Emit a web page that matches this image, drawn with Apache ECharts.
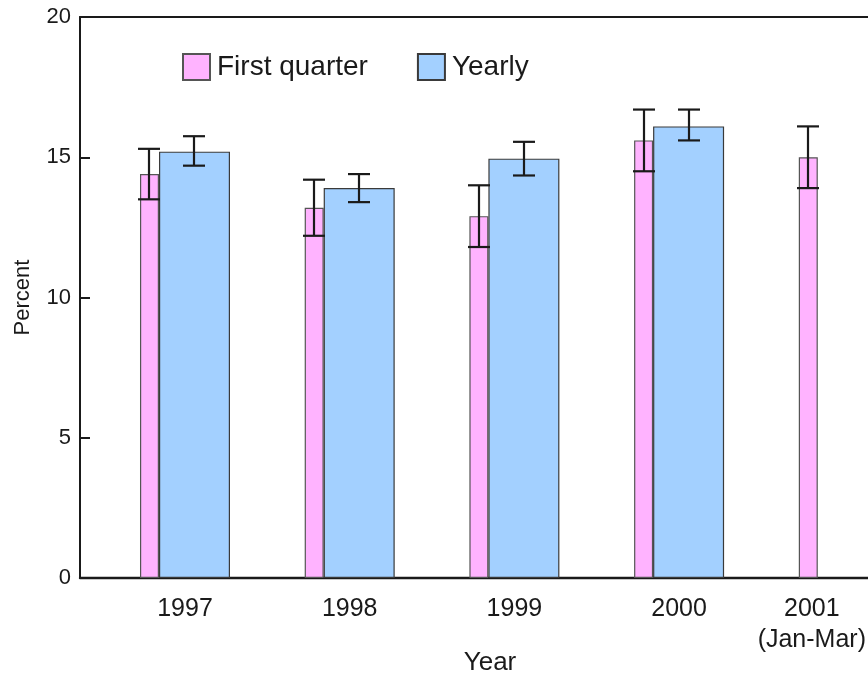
<!DOCTYPE html>
<html>
<head>
<meta charset="utf-8">
<title>Percent by year</title>
<script src="https://cdn.jsdelivr.net/npm/echarts@6/dist/echarts.min.js"></script>
<style>
  html, body { margin: 0; padding: 0; background: #fff; }
  #chart { width: 868px; height: 677px; }
</style>
</head>
<body>
<div id="chart"></div>
<script>
// Category labels (year groups)
const years = ['1997', '1998', '1999', '2000', '2001'];
const yearNotes = ['', '', '', '', '(Jan-Mar)'];

// First-quarter estimates with confidence limits
const firstQuarter = [14.4, 13.2, 12.9, 15.6, 15.0];
const firstQuarterLow = [13.5, 12.2, 11.8, 14.5, 13.9];
const firstQuarterHigh = [15.3, 14.2, 14.0, 16.7, 16.1];

// Full-year estimates with confidence limits
const yearly = [15.2, 13.9, 14.95, 16.1, null];
const yearlyLow = [14.7, 13.4, 14.35, 15.6, null];
const yearlyHigh = [15.75, 14.4, 15.55, 16.7, null];

// Y-axis ticks
const yTicks = [0, 5, 10, 15, 20];

const FONT = 'Liberation Sans, Arial, Helvetica, sans-serif';
const INK = '#1a1a1a';
const FQ_WIDTH = 19;
const YR_WIDTH = 71;
const GROUP = FQ_WIDTH + YR_WIDTH;
const FQ_OFFSET = -GROUP / 2 + FQ_WIDTH / 2;
const YR_OFFSET = -GROUP / 2 + FQ_WIDTH + YR_WIDTH / 2;

// Horizontal extent of the plot in group units
const X_MIN = -0.6375;
const PLOT_W = 820;
const GROUP_STEP = 164.7;
const X_MAX = X_MIN + PLOT_W / GROUP_STEP;

const idx = years.map((_, i) => i);
const fqData = idx.map(i => [i, firstQuarter[i]]);
const yrData = idx.map(i => [i, yearly[i]]);
const fqErr = idx.map(i => [i, firstQuarterLow[i], firstQuarterHigh[i]]);
const yrErr = idx.filter(i => yearly[i] != null).map(i => [i, yearlyLow[i], yearlyHigh[i]]);

function errorBar(offset) {
  return function (params, api) {
    const x = api.value(0);
    const lo = api.coord([x, api.value(1)]);
    const hi = api.coord([x, api.value(2)]);
    const cx = Math.round(lo[0] + offset);
    const half = 11;
    const style = { stroke: INK, lineWidth: 2.2, fill: null };
    return {
      type: 'group',
      children: [
        { type: 'line', shape: { x1: cx, y1: hi[1], x2: cx, y2: lo[1] }, style },
        { type: 'line', shape: { x1: cx - half, y1: hi[1], x2: cx + half, y2: hi[1] }, style },
        { type: 'line', shape: { x1: cx - half, y1: lo[1], x2: cx + half, y2: lo[1] }, style }
      ]
    };
  };
}

const chart = echarts.init(document.getElementById('chart'), null, { renderer: 'canvas' });

chart.setOption({
  backgroundColor: '#ffffff',
  animation: false,
  textStyle: { fontFamily: FONT, color: INK },
  grid: { left: 80, top: 17, width: PLOT_W, bottom: 99, containLabel: false, outerBoundsMode: 'none' },
  legend: {
    left: 177,
    top: 48,
    itemWidth: 27,
    itemHeight: 26,
    itemGap: 49,
    icon: 'rect',
    textStyle: { fontFamily: FONT, fontSize: 28, color: INK, padding: [0, 0, 0, 2] },
    data: ['First quarter', 'Yearly']
  },
  xAxis: [
    {
      type: 'value',
      min: X_MIN,
      max: X_MAX,
      splitLine: { show: false },
      axisTick: { show: false },
      axisLine: { show: true, onZero: false, lineStyle: { color: INK, width: 2.4 } },
      axisLabel: {
        customValues: idx,
        margin: 16,
        fontFamily: FONT,
        fontSize: 25,
        color: INK,
        lineHeight: 31,
        formatter: function (v) {
          const i = Math.round(v);
          if (yearNotes[i]) {
            return '{s|' + years[i] + '}\n{s|' + yearNotes[i] + '}';
          }
          return years[i];
        },
        rich: {
          s: { fontFamily: FONT, fontSize: 25, color: INK, lineHeight: 31, padding: [0, 64, 0, 0] }
        }
      },
      name: 'Year',
      nameLocation: 'middle',
      nameGap: 72,
      nameMoveOverlap: false,
      nameTextStyle: { fontFamily: FONT, fontSize: 26, color: INK }
    },
    {
      type: 'value',
      position: 'top',
      min: X_MIN,
      max: X_MAX,
      splitLine: { show: false },
      axisTick: { show: false },
      axisLabel: { show: false },
      axisLine: { show: true, onZero: false, lineStyle: { color: INK, width: 2 } }
    }
  ],
  yAxis: {
    type: 'value',
    min: 0,
    max: 20,
    interval: 5,
    splitLine: { show: false },
    axisLine: { show: true, onZero: false, lineStyle: { color: INK, width: 2 } },
    axisTick: { show: true, inside: true, length: 10, lineStyle: { color: INK, width: 2 } },
    axisLabel: {
      margin: 9,
      fontFamily: FONT,
      fontSize: 22,
      color: INK
    },
    name: 'Percent',
    nameLocation: 'middle',
    nameGap: 46,
    nameRotate: 90,
    nameTextStyle: { fontFamily: FONT, fontSize: 22, color: INK }
  },
  series: [
    {
      name: 'First quarter',
      type: 'bar',
      data: fqData,
      barWidth: FQ_WIDTH,
      barGap: '0%',
      itemStyle: { color: '#ffb3ff', borderColor: '#555555', borderWidth: 1.2 },
      z: 2
    },
    {
      name: 'Yearly',
      type: 'bar',
      data: yrData,
      barWidth: YR_WIDTH,
      barGap: '0%',
      itemStyle: { color: '#a3d0ff', borderColor: '#3a3a3a', borderWidth: 1.2 },
      z: 2
    },
    {
      name: 'fqError',
      type: 'custom',
      renderItem: errorBar(FQ_OFFSET),
      data: fqErr,
      encode: { x: 0, y: [1, 2] },
      z: 5,
      silent: true
    },
    {
      name: 'yrError',
      type: 'custom',
      renderItem: errorBar(YR_OFFSET),
      data: yrErr,
      encode: { x: 0, y: [1, 2] },
      z: 5,
      silent: true
    }
  ]
});
</script>
</body>
</html>
